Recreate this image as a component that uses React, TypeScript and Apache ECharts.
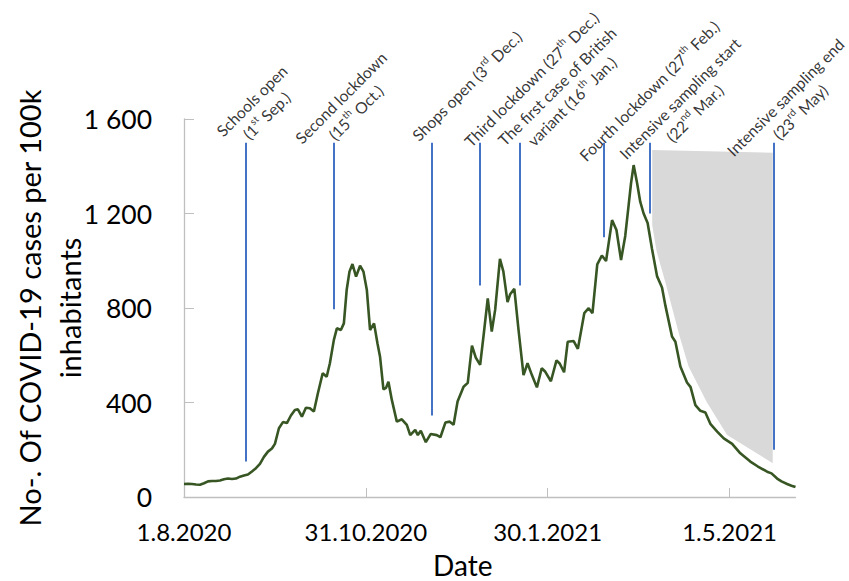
import React, { useEffect, useRef } from "react";
import * as echarts from "echarts";

// Day offsets are counted from 1.8.2020
const START_UTC = Date.UTC(2020, 7, 1);
const xTickDays = [0, 91, 182, 273];
const yTicks = [0, 400, 800, 1200, 1600];

const cases: [number, number][] = [
  [0, 55], [2, 56], [4, 55], [6, 53], [8, 52], [10, 58], [12, 66], [14, 68], [16, 68], [18, 70],
  [20, 75], [22, 78], [24, 76], [26, 78], [28, 86], [30, 91], [32, 95], [34, 108], [36, 122], [38, 140],
  [40, 170], [42, 192], [44, 205], [45.5, 225], [47.5, 291], [49.5, 317], [51.5, 313], [53.5, 345], [55.5, 368], [57, 371],
  [59, 340], [61, 378], [63, 376], [65, 362], [67, 439], [69.4, 524], [71.4, 509], [73, 566], [75, 665], [76.5, 714],
  [78.5, 707], [80, 735], [81.4, 876], [82.8, 954], [84.3, 986], [86.1, 933], [88.1, 979], [89.8, 954], [91.5, 876], [93.1, 707],
  [95.1, 735], [96.8, 651], [98.1, 594], [99.8, 456], [101.1, 462], [102.3, 488], [104, 411], [106.5, 319], [109, 329], [111.5, 305],
  [113.2, 262], [115.7, 284], [117, 262], [118.5, 280], [121, 232], [123.5, 267], [126.5, 262], [128.3, 253], [130.8, 315], [133, 319],
  [134.9, 306], [136.9, 404], [139.9, 467], [142, 483], [144.1, 641], [146, 590], [148.2, 559], [150, 690], [152, 841], [154, 700],
  [155.7, 792], [158.1, 1008], [159.8, 955], [161.9, 825], [163.2, 858], [165.3, 881], [167.4, 707], [169.9, 516], [171.9, 566], [174.1, 516],
  [176.6, 464], [179, 545], [180.8, 530], [183.6, 490], [186.4, 578], [188, 565], [190.2, 528], [192, 657], [195, 660], [197.1, 627],
  [200.3, 778], [202.5, 799], [204.4, 778], [206.8, 985], [209.1, 1022], [211.2, 999], [214.2, 1172], [216.4, 1130], [218.7, 1003], [220.8, 1105],
  [222.5, 1235], [223.7, 1328], [225, 1405], [226.7, 1330], [228.3, 1250], [230, 1200], [232, 1160], [234.2, 1050], [236.7, 935], [239.2, 887],
  [240.9, 810], [244.2, 679], [245.9, 657], [248.4, 552], [251.7, 485], [253.5, 465], [255.9, 389], [258.4, 365], [260.9, 358], [263.5, 308],
  [266.8, 277], [270.1, 248], [274.3, 225], [278.4, 185], [283.4, 150], [287, 130], [291.8, 107], [294, 100], [296.8, 78], [299, 66],
  [301.8, 55], [304, 48], [306, 42],
];

const eventDays = [31, 75, 124, 148, 168, 210, 233, 295];
const eventTop = 1500;
const eventBottoms = [150, 795, 345, 895, 895, 1100, 1200, 200];
const eventLabels = [
  "Schools open\n(1^st^ Sep.)",
  "Second lockdown\n(15^th^ Oct.)",
  "Shops open (3^rd^ Dec.)",
  "Third lockdown (27^th^ Dec.)",
  "The first case of British\nvariant (16^th^ Jan.)",
  "Fourth lockdown (27^th^ Feb.)",
  "Intensive sampling start\n(22^nd^ Mar.)",
  "Intensive sampling end\n(23^rd^ May)",
];

const shadeVertices: [number, number][] = [
  [234.3, 1469], [294.6, 1457], [294.6, 143], [271.8, 262], [261.7, 400], [252.5, 552],
  [248, 680], [241, 905], [236.5, 1040], [234.3, 1150],
];

const FONT = 'Lato, "Open Sans", sans-serif';
// label offsets in the rotated text frame (style only)
const LABEL_OFFSETS: [number, number][] = [
  [33.7, -15.4], [36.8, -16.6], [65, -15.6], [81.3, -8.5], [66.1, -3.2], [68.8, -4.7], [52.6, 0.3], [40.5, -13.5],
];

function fmtDate(day: number): string {
  const d = new Date(START_UTC + Math.round(day) * 86400000);
  return `${d.getUTCDate()}.${d.getUTCMonth() + 1}.${d.getUTCFullYear()}`;
}
function fmtNum(v: number): string {
  return v >= 1000 ? `${Math.floor(v / 1000)} ${String(v % 1000).padStart(3, "0")}` : String(v);
}
function richLabel(s: string): string {
  return s
    .split("\n")
    .map((line) =>
      line
        .split("^")
        .map((seg, i) => (seg ? `{${i % 2 ? "s" : "n"}|${seg}}` : ""))
        .join("")
    )
    .join("\n");
}

export default function App() {
  const ref = useRef<HTMLDivElement>(null);
  useEffect(() => {
    if (!ref.current) return;
    const chart = echarts.init(ref.current, undefined, { renderer: "svg" });
    const axisColor = "#bfbfbf";
    chart.setOption({
      animation: false,
      backgroundColor: "#ffffff",
      grid: { left: 184, right: 53.5, top: 119, bottom: 84, outerBoundsMode: "none" },
      xAxis: {
        type: "value",
        min: 0,
        max: 306,
        interval: 91,
        name: "Date",
        nameLocation: "middle",
        nameGap: 54,
        nameMoveOverlap: false,
        nameTextStyle: { fontSize: 28, color: "#000", fontFamily: FONT, padding: [0, 54, 0, 0] },
        axisLine: { show: true, lineStyle: { color: axisColor, width: 1.3 } },
        axisTick: { show: true, inside: true, length: 9, lineStyle: { color: axisColor }, customValues: xTickDays },
        axisLabel: { fontSize: 24, color: "#000", fontFamily: FONT, margin: 22, formatter: fmtDate, customValues: xTickDays },
        splitLine: { show: false },
      },
      yAxis: {
        type: "value",
        min: 0,
        max: 1600,
        interval: 400,
        name: "No-. Of COVID-19 cases per 100k\ninhabitants",
        nameLocation: "middle",
        nameGap: 95,
        nameMoveOverlap: false,
        nameTextStyle: { fontSize: 29, lineHeight: 40, color: "#000", fontFamily: FONT },
        axisLine: { show: true, lineStyle: { color: axisColor, width: 1.3 } },
        axisTick: { show: true, inside: true, length: 10, lineStyle: { color: axisColor }, customValues: yTicks },
        axisLabel: { fontSize: 26.5, color: "#000", fontFamily: FONT, margin: 32, formatter: fmtNum, customValues: yTicks },
        splitLine: { show: false },
      },
      series: [
        {
          type: "custom",
          name: "Intensive sampling",
          z: 1,
          silent: true,
          clip: false,
          data: shadeVertices,
          renderItem: (params: any, api: any) => {
            if (params.dataIndex !== 0) return null;
            const pts = shadeVertices.map((v) => api.coord(v));
            return { type: "polygon", shape: { points: pts }, style: { fill: "#d9d9d9" } };
          },
        },
        {
          type: "line",
          name: "Cases",
          z: 3,
          data: cases,
          showSymbol: false,
          symbol: "none",
          lineStyle: { color: "#375623", width: 2.6 },
          silent: true,
        },
        {
          type: "scatter",
          name: "Events",
          z: 4,
          clip: false,
          symbolSize: 1,
          itemStyle: { color: "rgba(0,0,0,0)" },
          silent: true,
          data: eventDays.map((d, i) => ({
            value: [d, eventTop],
            label: { offset: LABEL_OFFSETS[i] },
          })),
          label: {
            show: true,
            position: "inside",
            rotate: 45,
            align: "center",
            verticalAlign: "middle",
            formatter: (p: any) => richLabel(eventLabels[p.dataIndex]),
            rich: {
              n: { fontSize: 15.8, lineHeight: 21, color: "#000", fontFamily: FONT },
              s: { fontSize: 10, lineHeight: 12, color: "#000", fontFamily: FONT, verticalAlign: "top" },
            },
          },
          markLine: {
            silent: true,
            symbol: ["none", "none"],
            label: { show: false },
            lineStyle: { color: "#4472c4", width: 2, type: "solid" },
            data: eventDays.map((d, i) => [{ coord: [d, eventTop] }, { coord: [d, eventBottoms[i]] }]),
          },
        },
      ],
    });
    return () => chart.dispose();
  }, []);
  return <div ref={ref} style={{ position: "fixed", left: 0, top: 0, width: 849, height: 581 }} />;
}
